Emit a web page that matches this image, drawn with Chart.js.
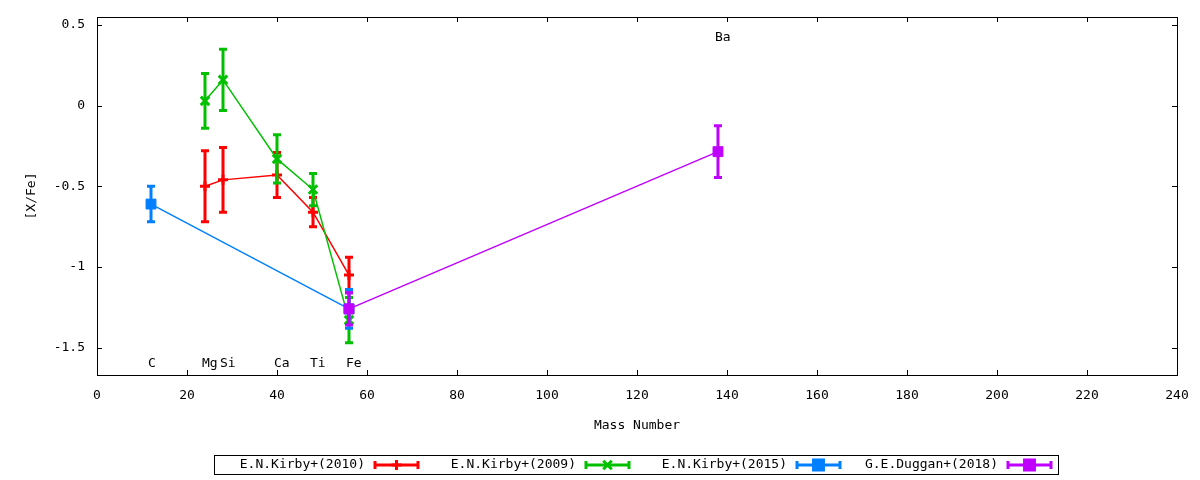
<!DOCTYPE html>
<html lang="en">
<head>
<meta charset="UTF-8">
<title>[X/Fe] vs Mass Number</title>
<script src="https://cdn.jsdelivr.net/npm/chart.js"></script>
<style>
  html, body { margin: 0; padding: 0; background: #fff; }
</style>
</head>
<body>
<canvas id="myChart" width="1200" height="480"></canvas>
<script>
// element names and mass numbers
const elements = ['C', 'Mg', 'Si', 'Ca', 'Ti', 'Fe', 'Ba'];
const massNumbers = [12, 24, 28, 40, 48, 56, 138];
const labelY = [-1.6, -1.6, -1.6, -1.6, -1.6, -1.6, 0.42];

// E.N.Kirby+(2010)
const kirby2010Elems = ['Mg', 'Si', 'Ca', 'Ti', 'Fe'];
const kirby2010Vals = [-0.50, -0.46, -0.43, -0.66, -1.05];
const kirby2010Errs = [0.22, 0.20, 0.14, 0.09, 0.11];

// E.N.Kirby+(2009)
const kirby2009Elems = ['Mg', 'Si', 'Ca', 'Ti', 'Fe'];
const kirby2009Vals = [0.03, 0.16, -0.33, -0.52, -1.33];
const kirby2009Errs = [0.17, 0.19, 0.15, 0.10, 0.14];

// E.N.Kirby+(2015)
const kirby2015Elems = ['C', 'Fe'];
const kirby2015Vals = [-0.61, -1.26];
const kirby2015Errs = [0.11, 0.12];

// G.E.Duggan+(2018)
const duggan2018Elems = ['Fe', 'Ba'];
const duggan2018Vals = [-1.26, -0.285];
const duggan2018Errs = [0.10, 0.16];

const FONT_FAMILY = "'DejaVu Sans Mono', monospace";
const FONT_SIZE = 13;

function points(elems, vals, errs) {
    return elems.map((e, i) => ({ x: massNumbers[elements.indexOf(e)], y: vals[i], err: errs[i] }));
}

function series(label, color, style, radius, bw, elems, vals, errs, order) {
    return {
        label,
        data: points(elems, vals, errs),
        borderColor: color,
        backgroundColor: color,
        borderWidth: 1.5,
        pointStyle: style,
        pointRadius: radius,
        pointBorderWidth: bw,
        pointHoverRadius: radius,
        tension: 0,
        fill: false,
        order
    };
}

// vertical error bars, drawn right after each dataset so layering follows the series
const errorBars = {
    id: 'errorBars',
    afterDatasetDraw(chart, args) {
        const ds = chart.data.datasets[args.index];
        const ctx = chart.ctx;
        const xs = chart.scales.x, ys = chart.scales.y;
        ctx.save();
        ctx.strokeStyle = ds.borderColor;
        ctx.lineWidth = 3;
        ds.data.forEach(p => {
            const px = xs.getPixelForValue(p.x);
            const top = ys.getPixelForValue(p.y + p.err);
            const bot = ys.getPixelForValue(p.y - p.err);
            ctx.beginPath();
            ctx.moveTo(px, top); ctx.lineTo(px, bot);
            ctx.moveTo(px - 4, top); ctx.lineTo(px + 4, top);
            ctx.moveTo(px - 4, bot); ctx.lineTo(px + 4, bot);
            ctx.stroke();
        });
        ctx.restore();
    }
};

// gnuplot style frame with inward, mirrored tick marks
const frame = {
    id: 'frame',
    afterDatasetsDraw(chart) {
        const { ctx, chartArea: a } = chart;
        const xs = chart.scales.x, ys = chart.scales.y;
        ctx.save();
        ctx.strokeStyle = '#000';
        ctx.lineWidth = 1;
        ctx.strokeRect(a.left + 0.5, a.top + 0.5, a.right - a.left, a.bottom - a.top);
        ctx.beginPath();
        xs.ticks.forEach(t => {
            const px = Math.round(xs.getPixelForValue(t.value)) + 0.5;
            ctx.moveTo(px, a.bottom); ctx.lineTo(px, a.bottom - 5);
            ctx.moveTo(px, a.top); ctx.lineTo(px, a.top + 5);
        });
        ys.ticks.forEach(t => {
            const py = Math.round(ys.getPixelForValue(t.value)) + 0.5;
            ctx.moveTo(a.left, py); ctx.lineTo(a.left + 5, py);
            ctx.moveTo(a.right, py); ctx.lineTo(a.right - 5, py);
        });
        ctx.stroke();

        // element labels
        ctx.fillStyle = '#000';
        ctx.font = FONT_SIZE + 'px ' + FONT_FAMILY;
        ctx.textAlign = 'left';
        ctx.textBaseline = 'middle';
        elements.forEach((e, i) => {
            ctx.fillText(e, xs.getPixelForValue(massNumbers[i]) - 3, ys.getPixelForValue(labelY[i]));
        });
        ctx.restore();
    }
};

// boxed legend: text first, then a sample with error bar caps
const legendBox = {
    id: 'legendBox',
    afterDraw(chart) {
        const ctx = chart.ctx;
        ctx.save();
        ctx.strokeStyle = '#000';
        ctx.lineWidth = 1;
        ctx.strokeRect(214.5, 455.5, 844, 19);
        ctx.font = FONT_SIZE + 'px ' + FONT_FAMILY;
        ctx.textAlign = 'right';
        ctx.textBaseline = 'middle';
        const cy = 465;
        chart.data.datasets.forEach((ds, i) => {
            const tx = 365 + i * 211;
            ctx.fillStyle = '#000';
            ctx.fillText(ds.label, tx, cy);
            const x0 = tx + 10, x1 = tx + 53, xm = (x0 + x1) / 2;
            ctx.strokeStyle = ds.borderColor;
            ctx.fillStyle = ds.borderColor;
            ctx.lineWidth = 3;
            ctx.beginPath();
            ctx.moveTo(x0, cy); ctx.lineTo(x1, cy);
            ctx.moveTo(x0, cy - 4); ctx.lineTo(x0, cy + 4);
            ctx.moveTo(x1, cy - 4); ctx.lineTo(x1, cy + 4);
            ctx.stroke();
            Chart.helpers.drawPoint(ctx, {
                pointStyle: ds.pointStyle,
                radius: ds.pointRadius,
                borderWidth: ds.pointBorderWidth
            }, xm, cy);
        });
        ctx.restore();
    }
};

Chart.defaults.font.family = FONT_FAMILY;
Chart.defaults.font.size = FONT_SIZE;
Chart.defaults.color = '#000';

const ctx = document.getElementById('myChart').getContext('2d');
new Chart(ctx, {
    type: 'line',
    data: {
        datasets: [
            series('E.N.Kirby+(2010)', '#ff0000', 'cross', 5, 3, kirby2010Elems, kirby2010Vals, kirby2010Errs, 4),
            series('E.N.Kirby+(2009)', '#00c000', 'crossRot', 6, 3, kirby2009Elems, kirby2009Vals, kirby2009Errs, 3),
            series('E.N.Kirby+(2015)', '#0080ff', 'rect', 7, 1, kirby2015Elems, kirby2015Vals, kirby2015Errs, 2),
            series('G.E.Duggan+(2018)', '#c000ff', 'rect', 7, 1, duggan2018Elems, duggan2018Vals, duggan2018Errs, 1)
        ]
    },
    options: {
        responsive: false,
        animation: false,
        layout: { padding: { top: 17, right: 23, left: 0, bottom: 0 } },
        plugins: {
            legend: { display: false },
            tooltip: { enabled: false }
        },
        scales: {
            x: {
                type: 'linear',
                min: 0,
                max: 240,
                ticks: { stepSize: 20, padding: 5, maxRotation: 0, includeBounds: false },
                grid: { display: false },
                border: { display: false },
                title: { display: true, text: 'Mass Number', padding: { top: 0, bottom: 47 } },
                afterFit: s => { s.height = 105; }
            },
            y: {
                min: -1.67,
                max: 0.55,
                ticks: {
                    stepSize: 0.5,
                    padding: 4,
                    includeBounds: false,
                    callback: v => String(Number(v.toFixed(2)))
                },
                grid: { display: false },
                border: { display: false },
                title: { display: true, text: '[X/Fe]', padding: { top: 24, bottom: 0 } },
                afterFit: s => { s.width = 97; }
            }
        }
    },
    plugins: [errorBars, frame, legendBox]
});
</script>
</body>
</html>
